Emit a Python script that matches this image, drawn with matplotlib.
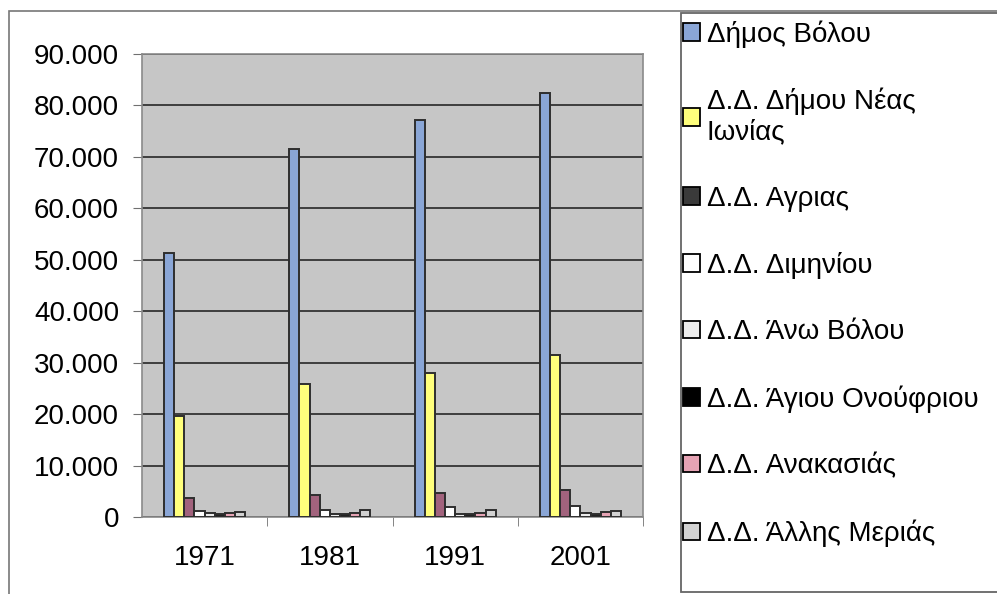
import matplotlib
matplotlib.use("Agg")
import matplotlib.pyplot as plt
from matplotlib.patches import Patch, Rectangle
from matplotlib.ticker import FuncFormatter, FixedLocator
import numpy as np

plt.rcParams['font.family'] = ['Liberation Sans', 'DejaVu Sans']

# δεδομένα (πληθυσμός ανά απογραφή)
years = ['1971', '1981', '1991', '2001']
names = ['Δήμος Βόλου', 'Δ.Δ. Δήμου Νέας\nΙωνίας', 'Δ.Δ. Αγριας', 'Δ.Δ. Διμηνίου',
         'Δ.Δ. Άνω Βόλου', 'Δ.Δ. Άγιου Ονούφριου', 'Δ.Δ. Ανακασιάς', 'Δ.Δ. Άλλης Μεριάς']
volos = [51400, 71500, 77200, 82500]
nea_ionia = [19700, 25900, 27900, 31500]
agria = [3600, 4200, 4700, 5300]
dimini = [1200, 1400, 2000, 2200]
ano_volos = [700, 600, 600, 700]
ag_onoufrios = [500, 500, 500, 500]
anakasia = [800, 800, 700, 900]
alli_meria = [1000, 1300, 1400, 1100]

series = [volos, nea_ionia, agria, dimini, ano_volos, ag_onoufrios, anakasia, alli_meria]
bar_colors = ['#8aa6d6', '#ffff7c', '#a2637d', '#ffffff', '#ececec', '#222222', '#e6a3b4', '#d2d2d2']
legend_colors = ['#8aa6d6', '#ffff7c', '#3a3a3a', '#ffffff', '#ececec', '#000000', '#e6a3b4', '#d2d2d2']

fig = plt.figure(figsize=(9.97, 5.94), dpi=100)
ax = fig.add_axes([142/997, 1-517/594, (643-142)/997, (517-54)/594])
ax.set_facecolor('#c6c6c6')

x = np.arange(len(years))
w = 0.081
n = len(series)
for i, vals in enumerate(series):
    ax.bar(x - w*n/2 + w*(i+0.5), vals, w, color=bar_colors[i],
           edgecolor='#2e2e2e', linewidth=1.4, zorder=3)

ax.set_xlim(-0.5, 3.5)
ax.set_ylim(0, 90000)
ax.set_yticks(range(0, 90001, 10000))
ax.yaxis.set_major_formatter(FuncFormatter(lambda v, p: f"{v:,.0f}".replace(',', '.')))
ax.grid(axis='y', color='#333333', linewidth=1.3, zorder=1)
ax.set_xticks(x)
ax.set_xticklabels(years)
ax.xaxis.set_minor_locator(FixedLocator([0.5, 1.5, 2.5, 3.5]))
ax.tick_params(axis='x', which='major', length=0, pad=20, labelsize=20)
ax.tick_params(axis='x', which='minor', length=6.5, color='#707070')
ax.tick_params(axis='y', length=6.5, color='#707070', labelsize=20, pad=10)
for s in ax.spines.values():
    s.set_color('#8a8a8a')
    s.set_linewidth(1.2)

# περίγραμμα γραφήματος και υπομνήματος
fig.patches.append(Rectangle((9/997, -0.05), 1.2, 1-11/594+0.05, transform=fig.transFigure,
                             fill=False, edgecolor='#777777', linewidth=1.2))
fig.patches.append(Rectangle((681/997, 2/594), 1.2, 1-15/594, transform=fig.transFigure,
                             fill=True, facecolor='white', edgecolor='#666666', linewidth=1.3))

handles = [Patch(facecolor=c, edgecolor='black', linewidth=1.3) for c in legend_colors]
fig.legend(handles, names, loc='upper left', bbox_to_anchor=(683/997, 1-20/594),
           frameon=False, fontsize=20, handlelength=0.6, handleheight=0.6,
           handletextpad=0.25, labelspacing=1.45, borderaxespad=0, borderpad=0)

fig.savefig('out.png', dpi=100)
